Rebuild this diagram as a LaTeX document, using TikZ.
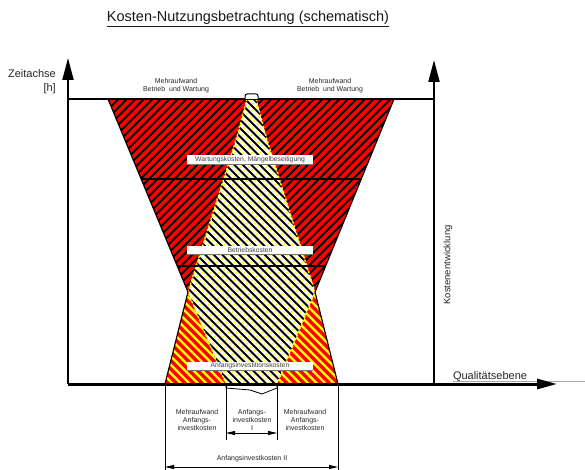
\documentclass[tikz,border=0pt]{standalone}
\usepackage{fontspec}
\setmainfont{Liberation Sans}
\usetikzlibrary{arrows.meta}
\definecolor{hred}{RGB}{255,0,0}
\definecolor{hyel}{RGB}{255,255,0}
\begin{document}
\begin{tikzpicture}[x=1pt,y=-1pt,
  lbl/.style={inner sep=0pt, text=black!85, font=\fontsize{7}{8}\selectfont, align=center},
  big/.style={inner sep=0pt, font=\fontsize{11}{14}\selectfont},
  labbox/.style={fill=white, minimum width=126pt, minimum height=9pt, inner sep=0pt, text=black!75, font=\fontsize{6.8}{8}\selectfont},
  axisline/.style={line width=2pt, -{Triangle[length=22pt,width=11pt]}},
  dimline/.style={line width=0.8pt, {Triangle[length=9pt,width=4pt]}-{Triangle[length=9pt,width=4pt]}},
  edge/.style={line width=1.2pt},
  ]
\useasboundingbox (0,0) rectangle (585,470);
% title
\node[inner sep=0pt, font=\fontsize{14.5}{17}\selectfont, anchor=base, text=black!90] (title) at (248,21.5) {\underline{Kosten-Nutzungsbetrachtung (schematisch)}};
% upper red region with black hatch
\begin{scope}
\clip (108,99) -- (394,99) -- (315,292) -- (188,292) -- cycle;
\fill[hred] (0,0) rectangle (585,470);
\foreach \c in {-500,-491.5,...,700} \draw[black, line width=1.9pt] (\c,420) -- ++(420,-420);
\end{scope}
% lower red region with yellow hatch
\begin{scope}
\clip (188,292) -- (315,292) -- (338,384) -- (165,384) -- cycle;
\fill[hred] (0,0) rectangle (585,470);
\foreach \c in {-500,-491.5,...,700} \draw[hyel, line width=2.2pt] (\c,0) -- ++(470,470);
\end{scope}
% inner region
\begin{scope}
\clip (247,99) -- (236,140) -- (188,292) -- (226,384) -- (277,384) -- (315,292) -- (267,140) -- (256,99) -- cycle;
\fill[white] (0,0) rectangle (585,470);
\foreach \c in {-500,-491.5,...,700} {
  \draw[black, line width=1.9pt] (\c,0) -- ++(470,470);
  \draw[hyel, line width=1.6pt, dash pattern=on 2pt off 3pt] (\c+4.25,0) -- ++(470,470);
}
\end{scope}
\draw[hyel, line width=1.4pt, dash pattern=on 2pt off 2pt] (247,99) -- (236,140) -- (188,292) -- (226,384);
\draw[hyel, line width=1.4pt, dash pattern=on 2pt off 2pt] (256,99) -- (267,140) -- (315,292) -- (277,384);
% outline and band lines
\draw[edge] (108,99) -- (188,292) -- (165,384);
\draw[edge] (394,99) -- (315,292) -- (338,384);
\draw[edge] (141,179) -- (361,179);
\draw[edge] (177,266) -- (325,266);
% top horizontal line
\draw[edge] (68,99) -- (434,99);
% small cap on top
\draw[line width=1pt, fill=white, rounded corners=2pt] (245,99) -- (245,94) -- (258,94) -- (258,99);
% bottom irregular closure
\draw[line width=0.8pt, fill=white] (226,385) -- (226,388) -- (250,390) -- (262,394) -- (277,388) -- (277,385);
% gray line at right
\draw[black!35, line width=0.6pt] (453,381) -- (585,381);
% axes
\coordinate (o) at (68,384);
\coordinate (ytop) at (68,58);
\coordinate (r0) at (434,384);
\coordinate (rtop) at (434,60);
\coordinate (xend) at (557,384);
\draw[axisline] (o) -- (ytop);
\draw[axisline] (r0) -- (rtop);
\draw[line width=3pt, -{Triangle[length=20pt,width=10pt]}] (o) -- (xend);
% labels
\node[big, anchor=east, align=right, text=black!85] (zeit) at (56,82) {Zeitachse\\{}[h]};
\node[big, text=black!85] (qual) at (490,377) {Qualitätsebene};
\node[inner sep=0pt, rotate=90, font=\fontsize{9.5}{11}\selectfont, text=black!85] (kost) at (448,265) {Kostenentwicklung};
\node[lbl] (mbw1) at (176,85.5) {Mehraufwand\\Betrieb\ \ und Wartung};
\node[lbl] (mbw2) at (330,85.5) {Mehraufwand\\Betrieb\ \ und Wartung};
% boxes
\node[labbox] (wk) at (250,160) {Wartungskosten, Mängelbeseitigung};
\draw[black!55, line width=0.8pt] (wk.south west) -- (wk.south east);
\node[labbox] (bk) at (250,250) {Betriebskosten};
\draw[black!55, line width=0.8pt] (bk.south west) -- (bk.south east);
\node[labbox] (ak) at (250,366) {Anfangsinvestitionskosten};
\draw[black!55, line width=0.8pt] (ak.south west) -- (ak.south east);
% dimension lines
\coordinate (d1a) at (165,384); \coordinate (d1b) at (165,470);
\coordinate (d2a) at (338,384); \coordinate (d2b) at (338,470);
\coordinate (d3a) at (226,384); \coordinate (d3b) at (226,440);
\coordinate (d4a) at (277,384); \coordinate (d4b) at (277,440);
\draw[line width=0.8pt] (d1a) -- (d1b);
\draw[line width=0.8pt] (d2a) -- (d2b);
\draw[line width=0.8pt] (d3a) -- (d3b);
\draw[line width=0.8pt] (d4a) -- (d4b);
\coordinate (a1) at (226,433); \coordinate (a2) at (277,433);
\coordinate (b1) at (165,467); \coordinate (b2) at (338,467);
\draw[dimline] (a1) -- (a2);
\draw[dimline] (b1) -- (b2);
\node[lbl] (mak1) at (197,420) {Mehraufwand\\Anfangs-\\investkosten};
\node[lbl] (aki) at (252,420) {Anfangs-\\investkosten\\I};
\node[lbl] (mak2) at (305,420) {Mehraufwand\\Anfangs-\\investkosten};
\node[lbl] (akii) at (252,459) {Anfangsinvestkosten II};
\end{tikzpicture}
\end{document}
